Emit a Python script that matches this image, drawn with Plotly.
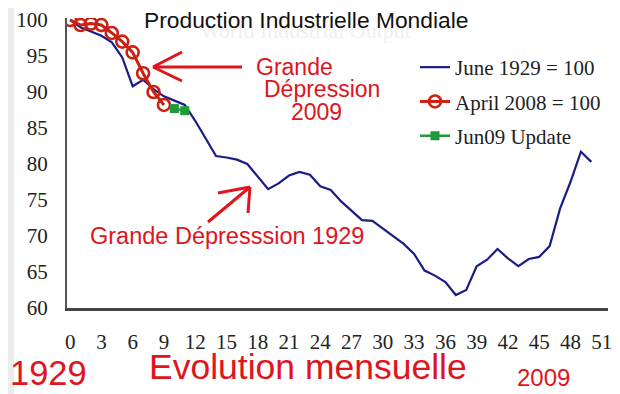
import plotly.graph_objects as go

# ---------------- data ----------------
months_1929 = list(range(51))
index_1929 = [100, 99.0, 98.4, 97.8, 96.9, 94.8, 90.8, 91.7, 90.4, 89.4,
              88.8, 88.2, 86.0, 83.6, 81.1, 80.9, 80.6, 80.0, 78.3, 76.5,
              77.3, 78.4, 78.9, 78.5, 76.9, 76.4, 74.8, 73.5, 72.2, 72.1,
              71.0, 70.0, 68.9, 67.5, 65.2, 64.5, 63.6, 61.8, 62.5, 65.8,
              66.7, 68.2, 66.9, 65.8, 66.8, 67.1, 68.6, 73.8, 77.5, 81.7,
              80.3]
months_2008 = list(range(10))
index_2008 = [100, 99.3, 99.5, 99.3, 98.2, 97.0, 95.5, 92.6, 90.0, 88.2]
months_update = [10, 11]
index_update = [87.7, 87.4]

x_tick_vals = list(range(0, 52, 3))
x_tick_text = [str(v) for v in x_tick_vals]
y_tick_vals = list(range(60, 101, 5))

series_names = ["June 1929 = 100", "April 2008 = 100", "Jun09 Update"]

# ---------------- layout helpers ----------------
# the page body adds an 8px offset; positions below are given in window pixels
OFF = 8
W, H = 620, 394
ML, MT = 67 - OFF, 18 - OFF
MR = W - (608 - OFF)
MB = H - (308 - OFF)
PW, PH = W - ML - MR, H - MT - MB


def px_to_paper(px, py):
    fx, fy = px - OFF, py - OFF
    return (fx - ML) / PW, (H - MB - fy) / PH


RED = "#e0141c"
SERIF = "Liberation Serif"
SANS = "Liberation Sans"

fig = go.Figure()
fig.add_trace(go.Scatter(x=months_1929, y=index_1929, mode="lines",
                         name=series_names[0], legendgroup="a",
                         line=dict(color="#1c1c86", width=2.2)))
fig.add_trace(go.Scatter(x=months_2008, y=index_2008, mode="lines+markers",
                         name=series_names[1], legendgroup="b",
                         line=dict(color="#cc2010", width=3),
                         marker=dict(symbol="circle-open", size=12,
                                     line=dict(color="#cc2010", width=2.6))))
fig.add_trace(go.Scatter(x=months_update, y=index_update, mode="lines+markers",
                         name=series_names[2], legendgroup="c",
                         line=dict(color="#1f9a3a", width=2.5),
                         marker=dict(symbol="square", size=9, color="#1f9a3a")))

annotations = []


def text_at(txt, px, py, size, color=RED, family=SANS):
    x, y = px_to_paper(px, py)
    annotations.append(dict(text=txt, x=x, y=y, xref="paper", yref="paper",
                            showarrow=False, xanchor="center", yanchor="middle",
                            font=dict(family=family, size=size, color=color)))


text_at("World Industrial Output", 305, 31, 22, color="#f0f0f0", family=SERIF)
text_at("Production Industrielle Mondiale", 306, 20, 22.8, color="#111111")
text_at("Grande", 294, 67, 23)
text_at("Dépression", 322, 89, 23)
text_at("2009", 316, 112, 23)
text_at("Grande Dépresssion 1929", 227, 236, 23.5)
text_at("1929", 48, 373, 34.5)
text_at("Evolution mensuelle", 308, 367, 35.5)
text_at("2009", 543, 377, 24)

shapes = []


def seg(p0, p1, color=RED, width=3):
    x0, y0 = px_to_paper(*p0)
    x1, y1 = px_to_paper(*p1)
    shapes.append(dict(type="line", xref="paper", yref="paper",
                       x0=x0, y0=y0, x1=x1, y1=y1,
                       line=dict(color=color, width=width)))


# arrow towards the 2009 curve
seg((242, 67), (153, 67))
seg((153, 67), (182, 52))
seg((153, 67), (182, 81))
# arrow towards the 1929 curve
seg((208, 222), (250, 187))
seg((250, 187), (218, 193))
seg((250, 187), (248, 213))

# light grey strip at the left edge
gx0, gy0 = px_to_paper(OFF, H + OFF)
gx1, gy1 = px_to_paper(14, OFF)
shapes.append(dict(type="rect", xref="paper", yref="paper",
                   x0=gx0, x1=gx1, y0=gy0, y1=gy1,
                   fillcolor="#ececec", line=dict(width=0), layer="below"))

lx, ly = px_to_paper(415, 47)
fig.update_layout(
    width=W, height=H,
    margin=dict(l=ML, r=MR, t=MT, b=MB),
    paper_bgcolor="white", plot_bgcolor="white",
    showlegend=True,
    legend=dict(x=lx, y=ly, xanchor="left", yanchor="top",
                font=dict(family=SERIF, size=21, color="#222222"),
                bgcolor="rgba(0,0,0,0)", tracegroupgap=4),
    annotations=annotations,
    shapes=shapes,
)
fig.update_xaxes(range=[-0.3, 51.6], tickvals=x_tick_vals, ticktext=x_tick_text,
                 automargin=False,
                 showgrid=False, zeroline=False, showline=True,
                 linecolor="#444444", linewidth=2.5,
                 ticks="outside", ticklen=13, tickcolor="rgba(0,0,0,0)",
                 tickfont=dict(family=SERIF, size=21, color="#222222"))
fig.update_yaxes(range=[60, 60 + PH / 7.2], tickvals=y_tick_vals,
                 automargin=False,
                 showgrid=False, zeroline=False, showline=True,
                 linecolor="#555555", linewidth=2,
                 ticks="outside", ticklen=13, tickcolor="rgba(0,0,0,0)",
                 tickfont=dict(family=SERIF, size=21, color="#222222"))

fig.write_html("out.html")
